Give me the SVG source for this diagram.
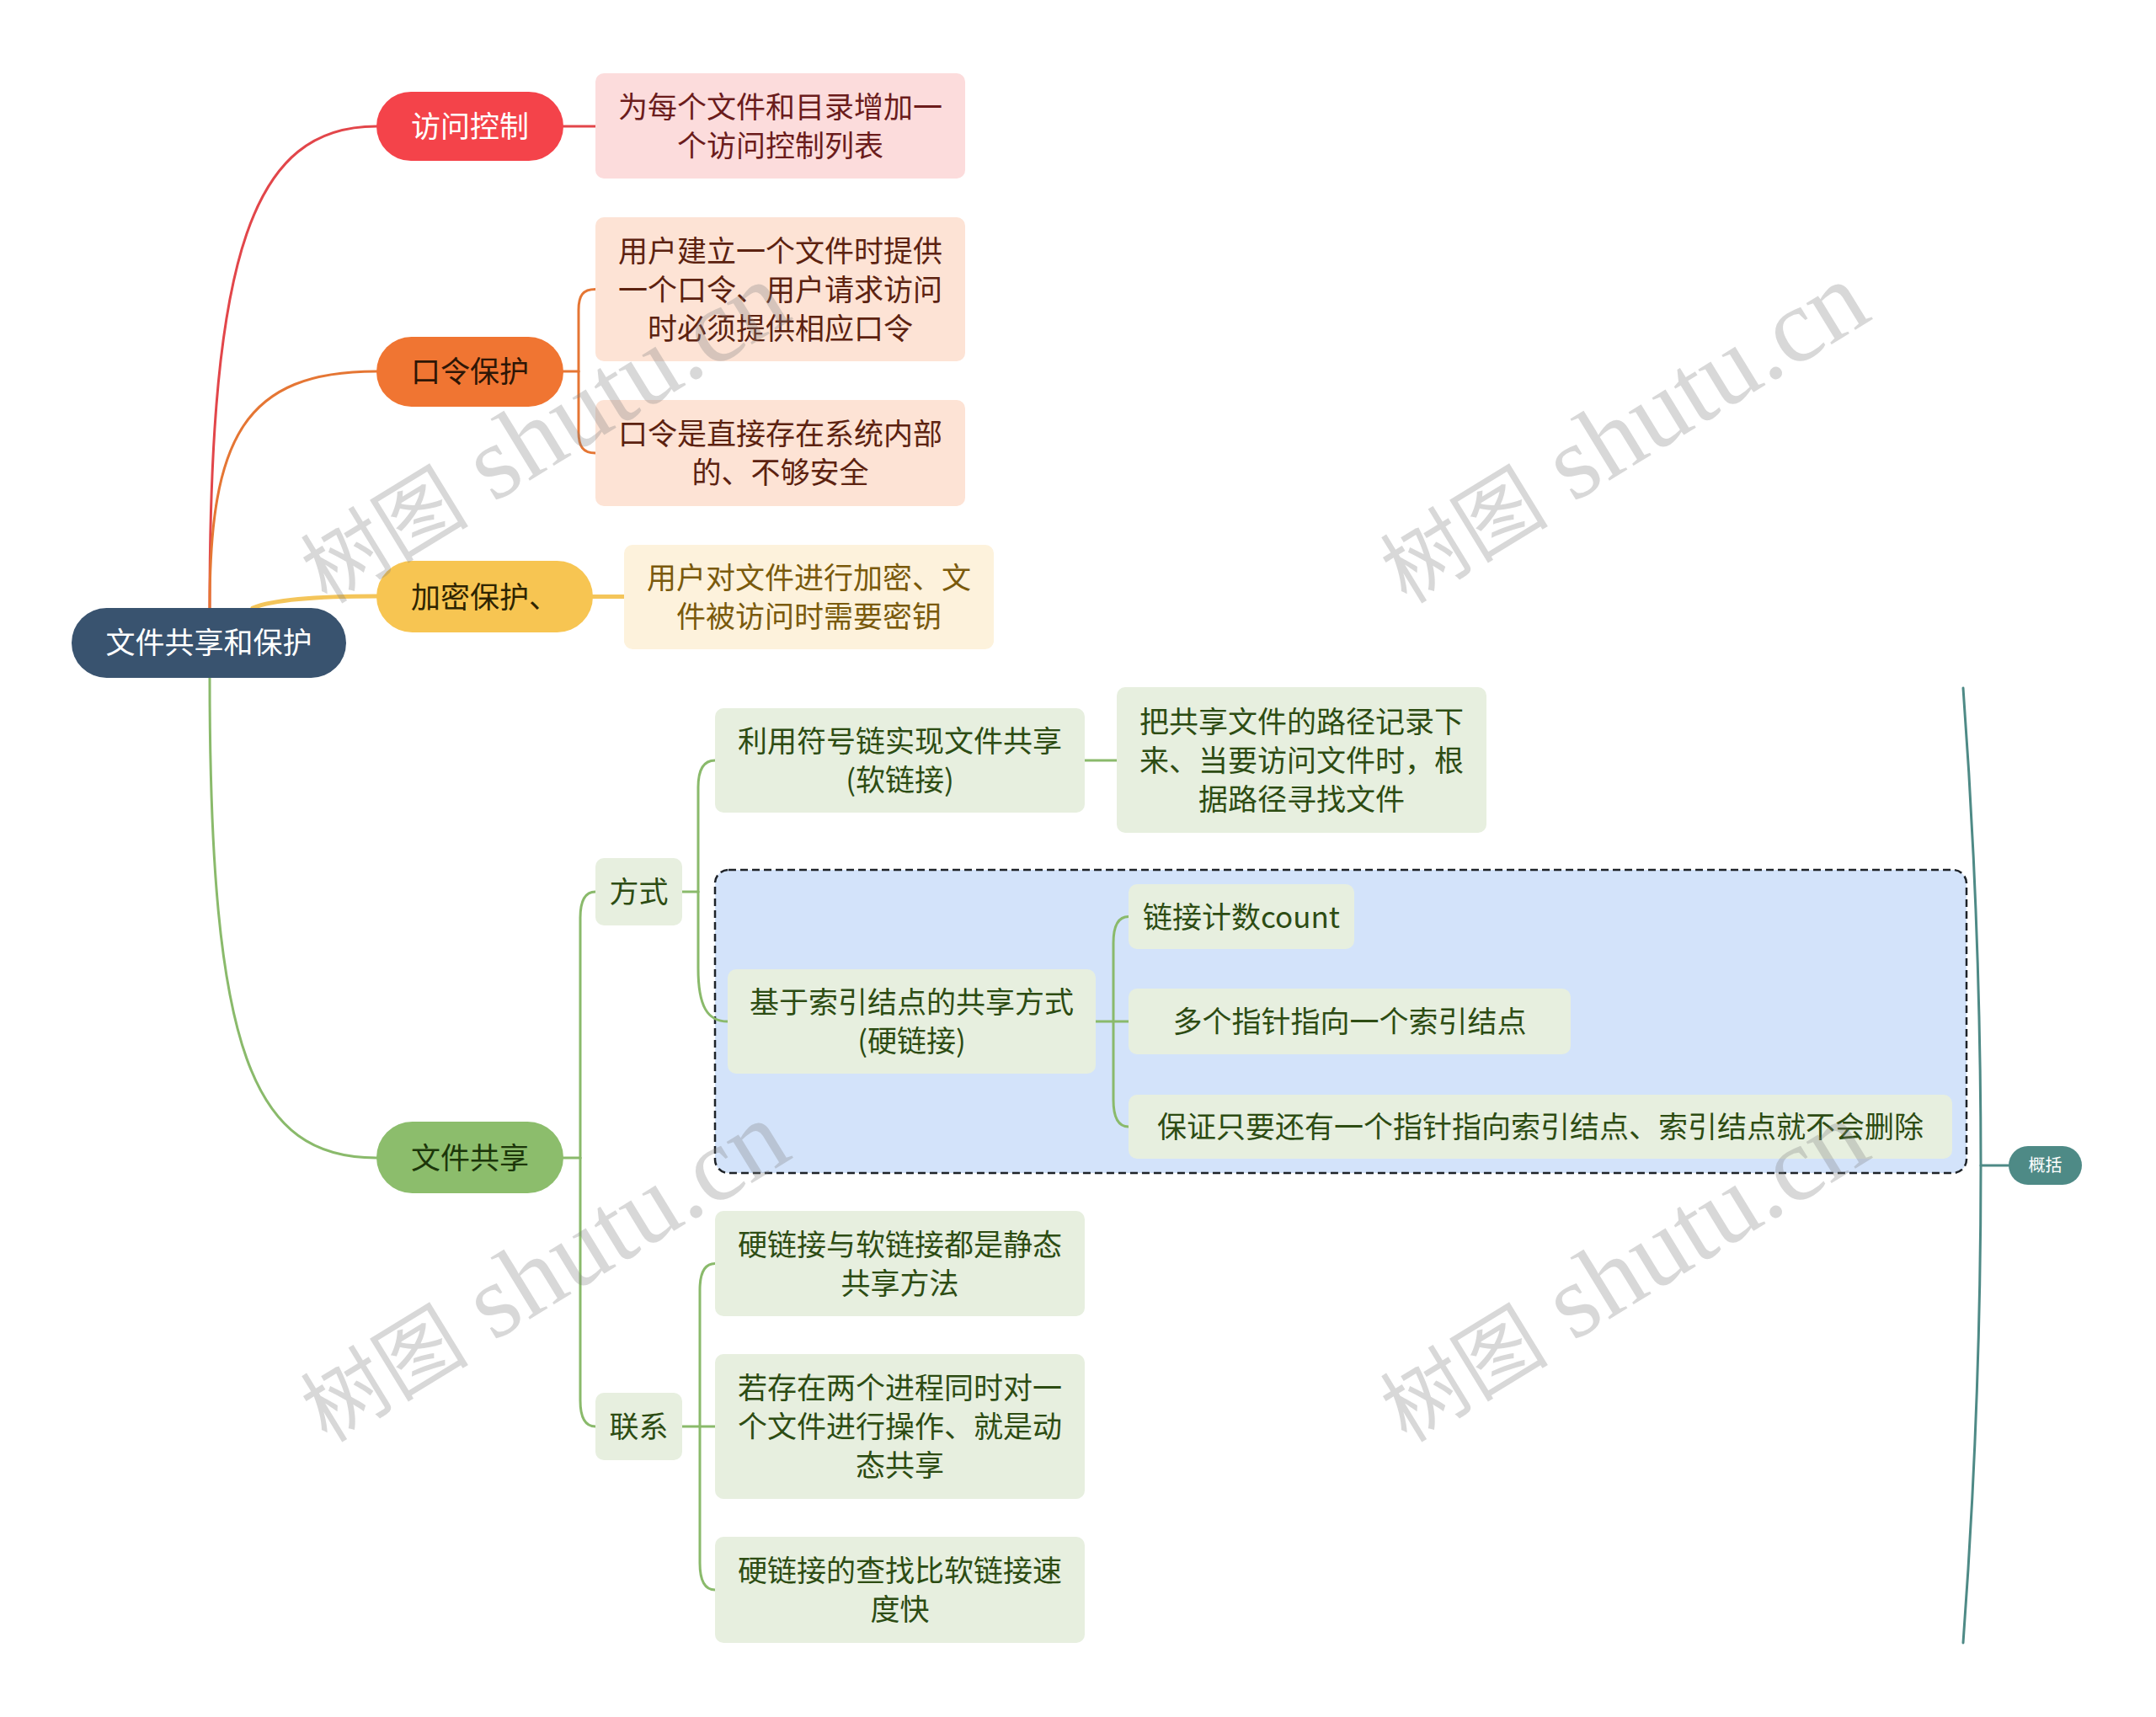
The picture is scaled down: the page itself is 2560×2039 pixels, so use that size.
<svg xmlns="http://www.w3.org/2000/svg" width="2560" height="2039" viewBox="0 0 2560 2039">
<style>
text{font-family:"Noto Sans CJK SC","Noto Sans",sans-serif;font-size:35px;text-anchor:middle}
.c{fill:none;stroke-width:3;stroke-linecap:round}
.red{stroke:#e2464a}
.org{stroke:#e57634}
.yel{stroke:#f4c55a;stroke-width:5}
.grn{stroke:#8aba6b}
.teal{stroke:#4e8a86}
.box{fill:#e7efdf}
.gt{fill:#2d4c13}
.wm{font-family:"Liberation Serif","Noto Sans CJK SC",serif;font-size:125px;fill:#808080;opacity:0.3}
.wmc{font-size:100px;font-family:"Noto Sans CJK SC",sans-serif}
</style>
<rect width="2560" height="2039" fill="#ffffff"/>
<g id="boundary">
<rect x="849" y="1033" width="1486" height="360" rx="16" fill="#d3e3fa" stroke="#1e2328" stroke-width="2.5" stroke-dasharray="9 5"/>
</g>
<g id="connectors">
<path class="c red" d="M249 722 C249 300 300 150 447 150"/>
<path class="c red" d="M669 150 H707"/>
<path class="c org" d="M249 722 C249 520 290 441 447 441"/>
<path class="c org" d="M669 441 H687"/>
<path class="c org" d="M687 441 V368 C687 351 692 343.5 707 343.5"/>
<path class="c org" d="M687 441 V513 C687 530 692 538 707 538"/>
<path class="c yel" d="M300 722 Q335 708 447 708"/>
<path class="c yel" d="M704 708.5 H741"/>
<path class="c grn" d="M249 805 C249 1250 300 1375 447 1375"/>
<path class="c grn" d="M669 1375 H689"/>
<path class="c grn" d="M689 1375 V1090 C689 1070 694 1059 707 1059"/>
<path class="c grn" d="M689 1375 V1663 C689 1683 694 1694 707 1694"/>
<path class="c grn" d="M810 1059 H829"/>
<path class="c grn" d="M829 1059 V935 C829 915 835 903 849 903"/>
<path class="c grn" d="M829 1059 V1150 C829 1195 840 1213 864 1213"/>
<path class="c grn" d="M1288 903 H1326"/>
<path class="c grn" d="M1301 1213 H1340"/>
<path class="c grn" d="M1322 1213 V1120 C1322 1100 1327 1088.5 1340 1088.5"/>
<path class="c grn" d="M1322 1213 V1306 C1322 1326 1327 1338 1340 1338"/>
<path class="c grn" d="M810 1694 H849"/>
<path class="c grn" d="M831 1694 V1532 C831 1512 836 1500.5 849 1500.5"/>
<path class="c grn" d="M831 1694 V1856 C831 1876 836 1888 849 1888"/>
<path class="c teal" d="M2331 817 Q2373 1384 2331 1951"/>
<path class="c teal" d="M2352 1384 H2385"/>
</g>
<g id="root">
<rect x="85" y="722" width="326" height="83" rx="41.5" fill="#39536f"/>
<text x="248" y="776" fill="#ffffff">文件共享和保护</text>
</g>
<g id="n-access">
<rect x="447" y="109" width="222" height="82" rx="41" fill="#f4434a"/>
<text x="558" y="163" fill="#ffffff">访问控制</text>
</g>
<g id="n-access-1">
<rect x="707" y="87" width="439" height="125" rx="10" fill="#fcdcdc"/>
<text fill="#6b1c1c"><tspan x="926.5" y="139.5">为每个文件和目录增加一</tspan><tspan x="926.5" y="185.5">个访问控制列表</tspan></text>
</g>
<g id="n-password">
<rect x="447" y="400" width="222" height="83" rx="41.5" fill="#f07532"/>
<text x="558" y="454" fill="#2e1606">口令保护</text>
</g>
<g id="n-password-1">
<rect x="707" y="258" width="439" height="171" rx="10" fill="#fde3d5"/>
<text fill="#5c2210"><tspan x="926.5" y="310.5">用户建立一个文件时提供</tspan><tspan x="926.5" y="356.5">一个口令、用户请求访问</tspan><tspan x="926.5" y="402.5">时必须提供相应口令</tspan></text>
</g>
<g id="n-password-2">
<rect x="707" y="475" width="439" height="126" rx="10" fill="#fde3d5"/>
<text fill="#5c2210"><tspan x="926.5" y="528">口令是直接存在系统内部</tspan><tspan x="926.5" y="574">的、不够安全</tspan></text>
</g>
<g id="n-encrypt">
<rect x="447" y="666" width="257" height="85" rx="42.5" fill="#f7c552"/>
<text x="575.5" y="721.5" fill="#2e2400">加密保护、</text>
</g>
<g id="n-encrypt-1">
<rect x="741" y="647" width="439" height="124" rx="10" fill="#fdf2dc"/>
<text fill="#7a5a0c"><tspan x="960.5" y="699">用户对文件进行加密、文</tspan><tspan x="960.5" y="745">件被访问时需要密钥</tspan></text>
</g>
<g id="n-share">
<rect x="447" y="1332" width="222" height="85" rx="42.5" fill="#8cbd6c"/>
<text x="558" y="1388" fill="#1c360a">文件共享</text>
</g>
<g id="n-way">
<rect class="box" x="707" y="1019" width="103" height="80" rx="10"/>
<text class="gt" x="758.5" y="1072">方式</text>
</g>
<g id="n-soft">
<rect class="box" x="849" y="841" width="439" height="124" rx="10"/>
<text class="gt"><tspan x="1068.5" y="893">利用符号链实现文件共享</tspan><tspan x="1068.5" y="939">(软链接)</tspan></text>
</g>
<g id="n-soft-1">
<rect class="box" x="1326" y="816" width="439" height="173" rx="10"/>
<text class="gt"><tspan x="1545.5" y="869.5">把共享文件的路径记录下</tspan><tspan x="1545.5" y="915.5">来、当要访问文件时，根</tspan><tspan x="1545.5" y="961.5">据路径寻找文件</tspan></text>
</g>
<g id="n-hard">
<rect class="box" x="864" y="1151" width="437" height="124" rx="10"/>
<text class="gt"><tspan x="1082.5" y="1203">基于索引结点的共享方式</tspan><tspan x="1082.5" y="1249">(硬链接)</tspan></text>
</g>
<g id="n-hard-1">
<rect class="box" x="1340" y="1050" width="268" height="77" rx="10"/>
<text class="gt" x="1474" y="1101.5">链接计数count</text>
</g>
<g id="n-hard-2">
<rect class="box" x="1340" y="1174" width="525" height="78" rx="10"/>
<text class="gt" x="1602.5" y="1226">多个指针指向一个索引结点</text>
</g>
<g id="n-hard-3">
<rect class="box" x="1340" y="1300" width="978" height="76" rx="10"/>
<text class="gt" x="1829" y="1351">保证只要还有一个指针指向索引结点、索引结点就不会删除</text>
</g>
<g id="n-relation">
<rect class="box" x="707" y="1654" width="103" height="80" rx="10"/>
<text class="gt" x="758.5" y="1707">联系</text>
</g>
<g id="n-relation-1">
<rect class="box" x="849" y="1438" width="439" height="125" rx="10"/>
<text class="gt"><tspan x="1068.5" y="1490.5">硬链接与软链接都是静态</tspan><tspan x="1068.5" y="1536.5">共享方法</tspan></text>
</g>
<g id="n-relation-2">
<rect class="box" x="849" y="1608" width="439" height="172" rx="10"/>
<text class="gt"><tspan x="1068.5" y="1661">若存在两个进程同时对一</tspan><tspan x="1068.5" y="1707">个文件进行操作、就是动</tspan><tspan x="1068.5" y="1753">态共享</tspan></text>
</g>
<g id="n-relation-3">
<rect class="box" x="849" y="1825" width="439" height="126" rx="10"/>
<text class="gt"><tspan x="1068.5" y="1878">硬链接的查找比软链接速</tspan><tspan x="1068.5" y="1924">度快</tspan></text>
</g>
<g id="n-summary">
<rect x="2385" y="1361" width="87" height="46" rx="23" fill="#4e8a86"/>
<text x="2428.5" y="1391" fill="#ffffff" style="font-size:20px">概括</text>
</g>
<g id="watermarks">
<text class="wm" transform="translate(645 514) rotate(-31.5)" y="40"><tspan class="wmc">树图</tspan> shutu.cn</text>
<text class="wm" transform="translate(1927 514) rotate(-31.5)" y="40"><tspan class="wmc">树图</tspan> shutu.cn</text>
<text class="wm" transform="translate(645 1510) rotate(-31.5)" y="40"><tspan class="wmc">树图</tspan> shutu.cn</text>
<text class="wm" transform="translate(1927 1510) rotate(-31.5)" y="40"><tspan class="wmc">树图</tspan> shutu.cn</text>
</g>
</svg>
